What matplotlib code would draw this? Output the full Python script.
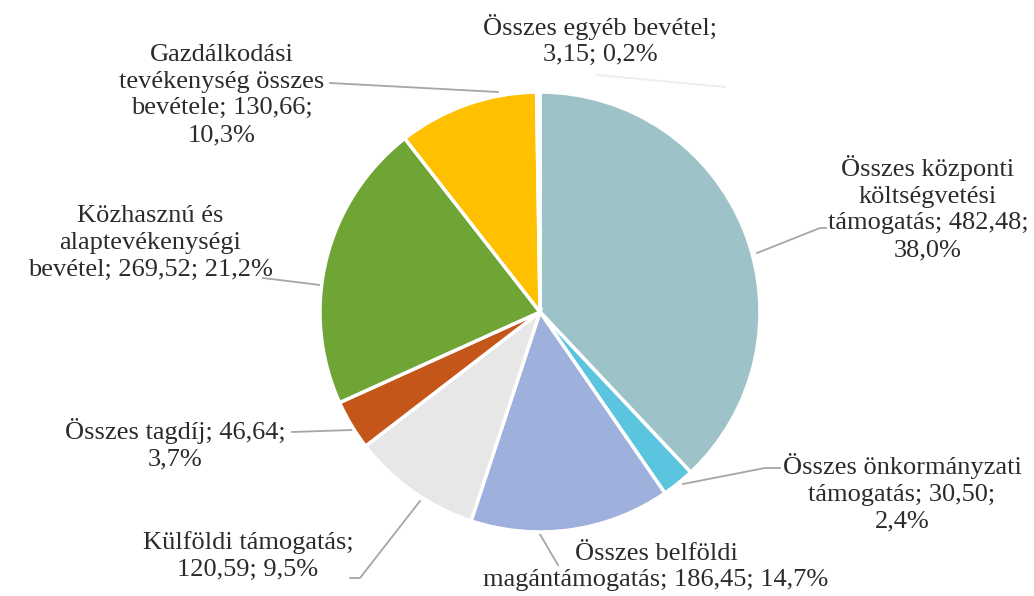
import numpy as np
import matplotlib
matplotlib.use("Agg")
import matplotlib.pyplot as plt

plt.rcParams['font.family'] = ['Liberation Serif', 'DejaVu Serif']

# adatok (millió Ft; %)
kategoriak = ["Összes központi költségvetési támogatás",
              "Összes önkormányzati támogatás",
              "Összes belföldi magántámogatás",
              "Külföldi támogatás",
              "Összes tagdíj",
              "Közhasznú és alaptevékenységi bevétel",
              "Gazdálkodási tevékenység összes bevétele",
              "Összes egyéb bevétel"]
ertekek = [482.48, 30.50, 186.45, 120.59, 46.64, 269.52, 130.66, 3.15]
szazalek = [38.0, 2.4, 14.7, 9.5, 3.7, 21.2, 10.3, 0.2]
cimkek = ["Összes központi\nköltségvetési\ntámogatás; 482,48;\n38,0%",
          "Összes önkormányzati\ntámogatás; 30,50;\n2,4%",
          "Összes belföldi\nmagántámogatás; 186,45; 14,7%",
          "Külföldi támogatás;\n120,59; 9,5%",
          "Összes tagdíj; 46,64;\n3,7%",
          "Közhasznú és\nalaptevékenységi\nbevétel; 269,52; 21,2%",
          "Gazdálkodási\ntevékenység összes\nbevétele; 130,66;\n10,3%",
          "Összes egyéb bevétel;\n3,15; 0,2%"]
szinek = ["#9DC3C8", "#5BC5E0", "#9EB1DC", "#E7E7E7",
          "#C5561A", "#6FA535", "#FFC000", "#F4F4F4"]

# cimke helyek (pixel, felulrol)
cimke_xy = [(928, 208), (902, 493), (656, 567), (248, 556),
            (175, 444), (150, 243), (222, 95), (600, 40)]
# vezetovonalak (pixel, felulrol)
vonalak = [[(757, 253), (820, 228), (826, 228)],
           [(683, 484), (765, 468), (780, 468)],
           [(538, 531), (558, 565)],
           [(420, 501), (360, 578), (350, 578)],
           [(352, 430), (292, 432)],
           [(320, 285), (263, 278)],
           [(498, 92), (330, 83)],
           [(597, 75), (725, 87)]]
vonal_szin = ['#A6A6A6'] * 7 + ['#EDEDED']

W, H = 1034, 596
fig = plt.figure(figsize=(W / 100, H / 100), dpi=100)
ax = fig.add_axes([0, 0, 1, 1])

kozep = (540, H - 312)
sugar = 220
wedges, _ = ax.pie(ertekek, colors=szinek, startangle=90, counterclock=False,
                   center=kozep, radius=sugar, frame=True,
                   wedgeprops=dict(edgecolor='white', linewidth=2.5))
ax.set_xlim(0, W)
ax.set_ylim(0, H)
ax.set_aspect('equal')
ax.axis('off')

for c, (lx, ly), v, vs in zip(cimkek, cimke_xy, vonalak, vonal_szin):
    xs = [p[0] for p in v]
    ys = [H - p[1] for p in v]
    ax.plot(xs, ys, color=vs, lw=1.3, zorder=0)
    ax.text(lx, H - ly, c, ha='center', va='center', fontsize=19,
            color='#2E2A28', linespacing=1.28)

fig.savefig("out.png", dpi=100)
